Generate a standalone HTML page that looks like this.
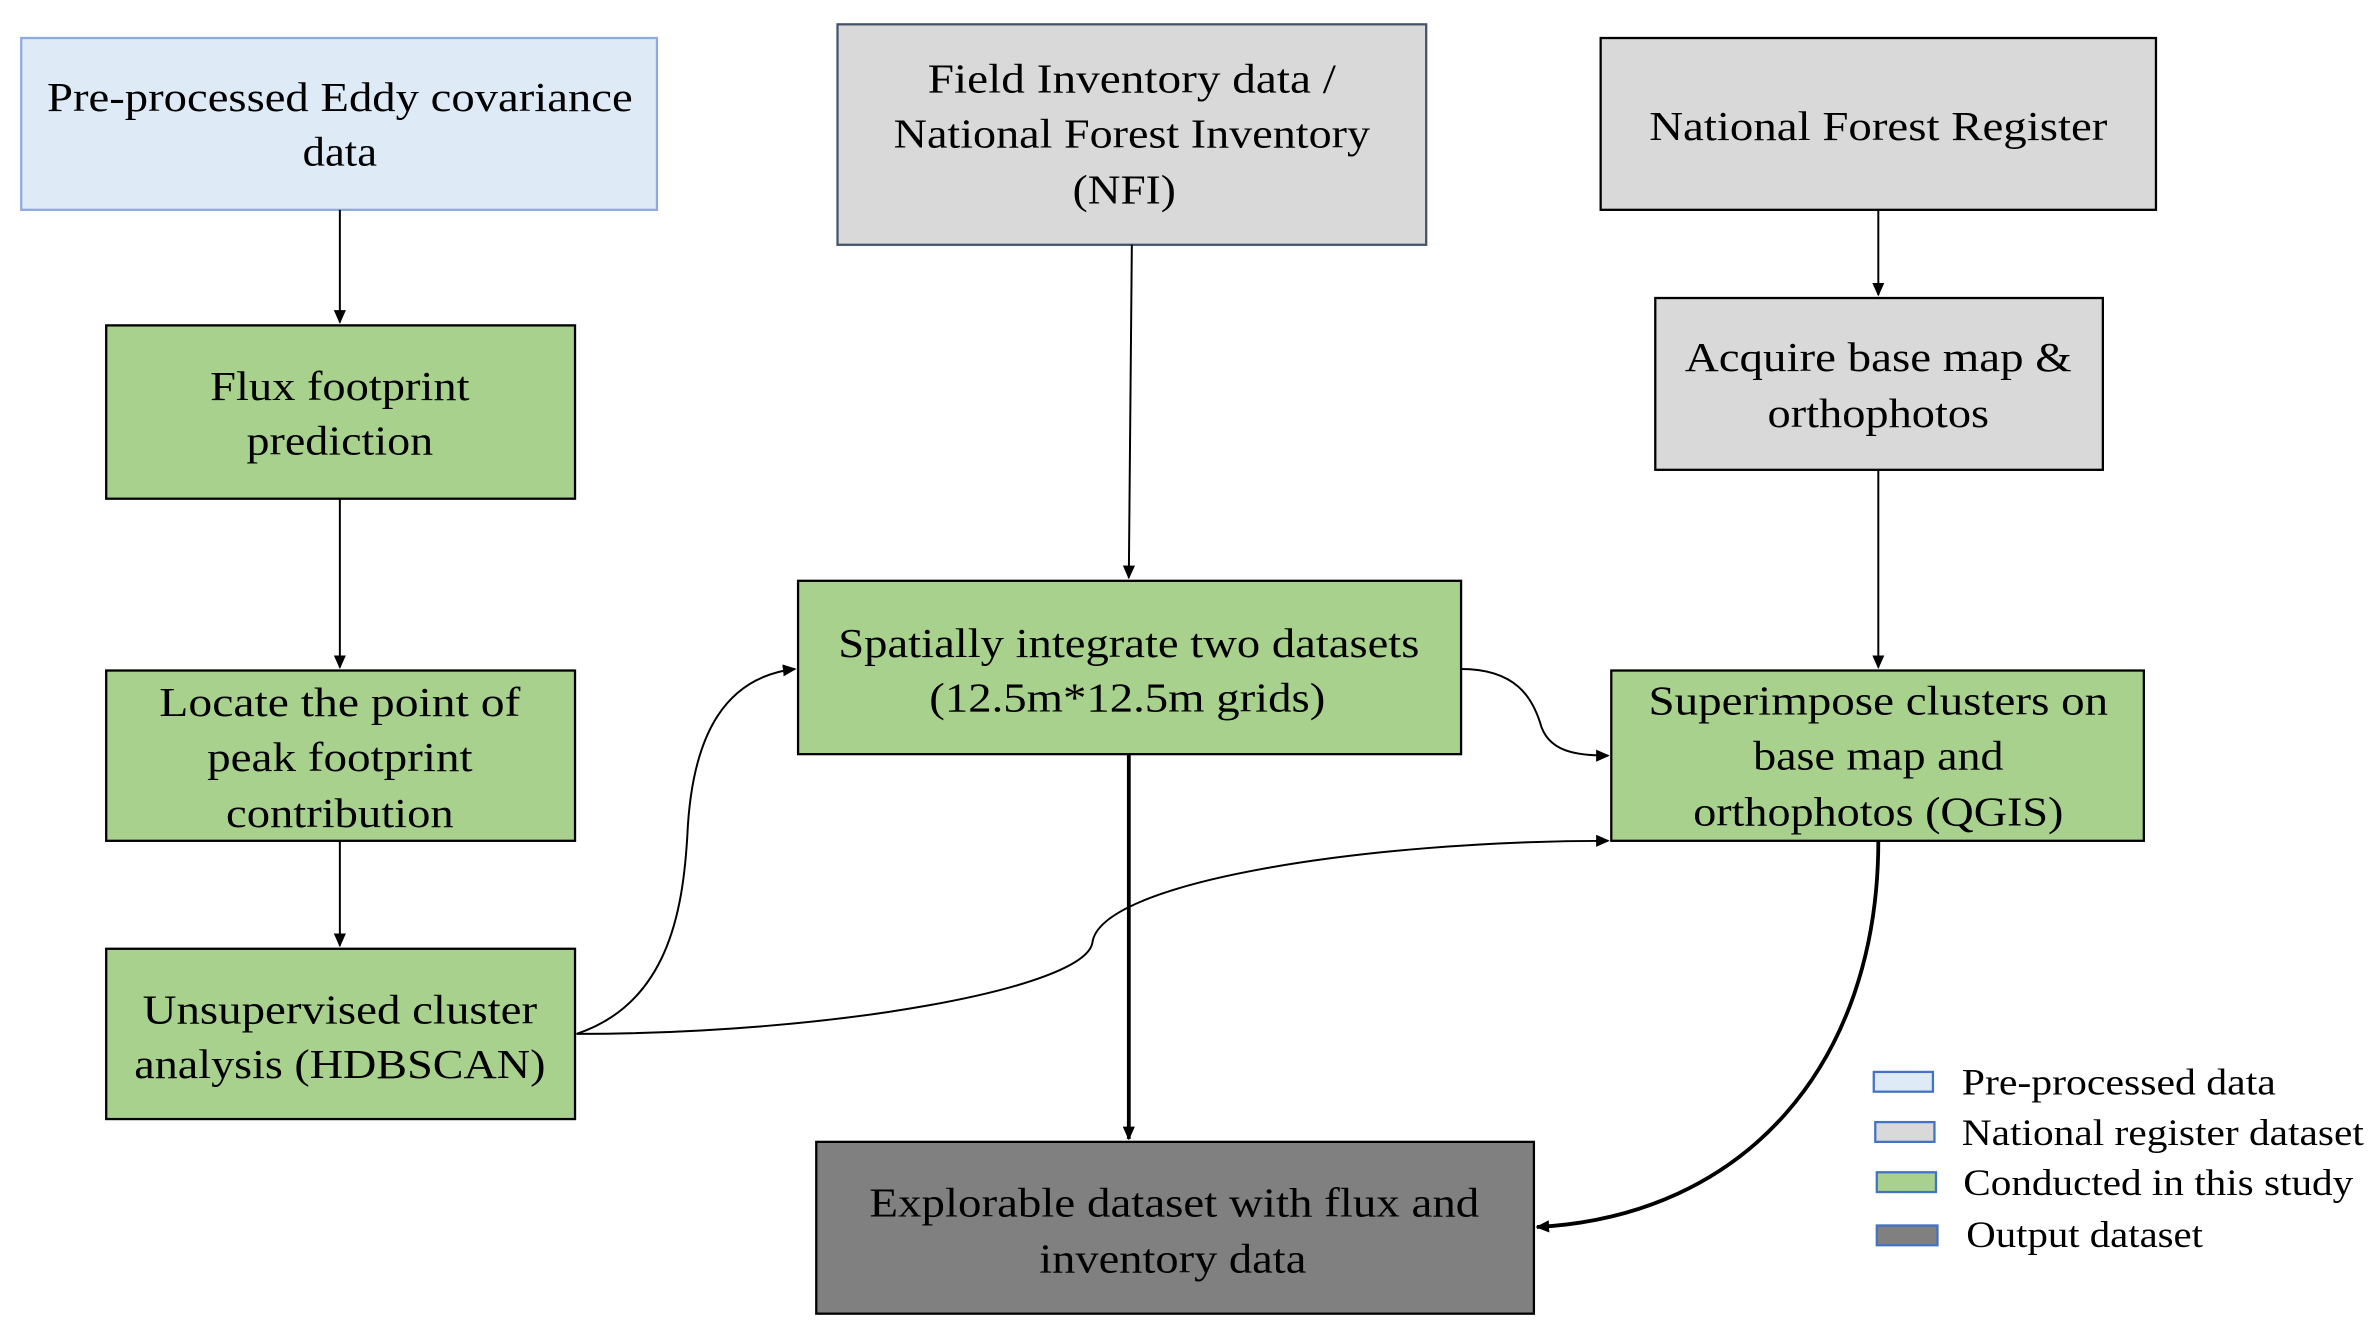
<!DOCTYPE html>
<html><head><meta charset="utf-8"><style>
html,body{margin:0;padding:0;background:#fff;}
svg{display:block;}
text{font-family:"Liberation Serif","Times New Roman",serif;font-size:27px;fill:#000;text-anchor:middle;}
.lg{font-size:24px;text-anchor:start;}
</style></head><body>
<svg width="2379" height="1338" viewBox="0 0 1568 880" preserveAspectRatio="none" xmlns="http://www.w3.org/2000/svg">
<defs><marker id="a" markerWidth="10" markerHeight="10" refX="8" refY="5" orient="auto" markerUnits="userSpaceOnUse"><path d="M0,1 L9,5 L0,9 z" fill="#000"/></marker></defs>
<rect x="14" y="25" width="419" height="113" fill="#deebf7" stroke="#8faadc" stroke-width="1.5"/>
<rect x="552" y="16" width="388" height="145" fill="#d9d9d9" stroke="#44546a" stroke-width="1.5"/>
<rect x="1055" y="25" width="366" height="113" fill="#d9d9d9" stroke="#000" stroke-width="1.5"/>
<rect x="1091" y="196" width="295" height="113" fill="#d9d9d9" stroke="#000" stroke-width="1.5"/>
<rect x="70" y="214" width="309" height="114" fill="#a9d18e" stroke="#000" stroke-width="1.5"/>
<rect x="70" y="441" width="309" height="112" fill="#a9d18e" stroke="#000" stroke-width="1.5"/>
<rect x="70" y="624" width="309" height="112" fill="#a9d18e" stroke="#000" stroke-width="1.5"/>
<rect x="526" y="382" width="437" height="114" fill="#a9d18e" stroke="#000" stroke-width="1.5"/>
<rect x="1062" y="441" width="351" height="112" fill="#a9d18e" stroke="#000" stroke-width="1.5"/>
<rect x="538" y="751" width="473" height="113" fill="#808080" stroke="#000" stroke-width="1.5"/>

<g stroke="#000" stroke-width="1.3" fill="none">
<path d="M224,138 L224,212" marker-end="url(#a)"/>
<path d="M224,328 L224,439" marker-end="url(#a)"/>
<path d="M224,553 L224,622" marker-end="url(#a)"/>
<path d="M746,161 L744,380" marker-end="url(#a)"/>
<path d="M1238,138 L1238,194" marker-end="url(#a)"/>
<path d="M1238,309 L1238,439" marker-end="url(#a)"/>
<path d="M380,680 C440,660 450,600 453,550 C456,480 480,445 524,440" marker-end="url(#a)"/>
<path d="M380,680 C550,680 715,650 720,620 C725,580 900,553 1060,553" marker-end="url(#a)"/>
<path d="M963,440 C1000,440 1010,460 1015,475 C1020,495 1040,497 1060,497" marker-end="url(#a)"/>
</g>
<g stroke="#000" stroke-width="2.5" fill="none">
<path d="M744,496 L744,749" marker-end="url(#a)"/>
<path d="M1238,553 C1238,700 1150,800 1013,807" marker-end="url(#a)"/>
</g>

<g lengthAdjust="spacingAndGlyphs">
<text x="224" y="73" textLength="386" lengthAdjust="spacingAndGlyphs">Pre-processed Eddy covariance</text>
<text x="224" y="109" textLength="49" lengthAdjust="spacingAndGlyphs">data</text>
<text x="746" y="61" textLength="269" lengthAdjust="spacingAndGlyphs">Field Inventory data /</text>
<text x="746" y="97" textLength="314" lengthAdjust="spacingAndGlyphs">National Forest Inventory</text>
<text x="741" y="134" textLength="68" lengthAdjust="spacingAndGlyphs">(NFI)</text>
<text x="1238" y="92" textLength="302" lengthAdjust="spacingAndGlyphs">National Forest Register</text>
<text x="1238" y="244" textLength="255" lengthAdjust="spacingAndGlyphs">Acquire base map &amp;</text>
<text x="1238" y="281" textLength="146" lengthAdjust="spacingAndGlyphs">orthophotos</text>
<text x="224" y="263" textLength="171" lengthAdjust="spacingAndGlyphs">Flux footprint</text>
<text x="224" y="299" textLength="123" lengthAdjust="spacingAndGlyphs">prediction</text>
<text x="224" y="471" textLength="238" lengthAdjust="spacingAndGlyphs">Locate the point of</text>
<text x="224" y="507" textLength="175" lengthAdjust="spacingAndGlyphs">peak footprint</text>
<text x="224" y="544" textLength="150" lengthAdjust="spacingAndGlyphs">contribution</text>
<text x="224" y="673" textLength="260" lengthAdjust="spacingAndGlyphs">Unsupervised cluster</text>
<text x="224" y="709" textLength="271" lengthAdjust="spacingAndGlyphs">analysis (HDBSCAN)</text>
<text x="744" y="432" textLength="383" lengthAdjust="spacingAndGlyphs">Spatially integrate two datasets</text>
<text x="743" y="468" textLength="261" lengthAdjust="spacingAndGlyphs">(12.5m*12.5m grids)</text>
<text x="1238" y="470" textLength="303" lengthAdjust="spacingAndGlyphs">Superimpose clusters on</text>
<text x="1238" y="506" textLength="165" lengthAdjust="spacingAndGlyphs">base map and</text>
<text x="1238" y="543" textLength="244" lengthAdjust="spacingAndGlyphs">orthophotos (QGIS)</text>
<text x="774" y="800" textLength="402" lengthAdjust="spacingAndGlyphs">Explorable dataset with flux and</text>
<text x="773" y="837" textLength="176" lengthAdjust="spacingAndGlyphs">inventory data</text>
</g>

<rect x="1235" y="705" width="39" height="13" fill="#deebf7" stroke="#4472c4" stroke-width="1.5"/>
<rect x="1236" y="738" width="39" height="13" fill="#d9d9d9" stroke="#4472c4" stroke-width="1.5"/>
<rect x="1237" y="771" width="39" height="13" fill="#a9d18e" stroke="#4472c4" stroke-width="1.5"/>
<rect x="1237" y="806" width="40" height="13" fill="#808080" stroke="#4472c4" stroke-width="1.5"/>
<text class="lg" x="1293" y="720" textLength="207" lengthAdjust="spacingAndGlyphs">Pre-processed data</text>
<text class="lg" x="1293" y="753" textLength="265" lengthAdjust="spacingAndGlyphs">National register dataset</text>
<text class="lg" x="1294" y="786" textLength="257" lengthAdjust="spacingAndGlyphs">Conducted in this study</text>
<text class="lg" x="1296" y="820" textLength="156" lengthAdjust="spacingAndGlyphs">Output dataset</text>
</svg>
</body></html>
